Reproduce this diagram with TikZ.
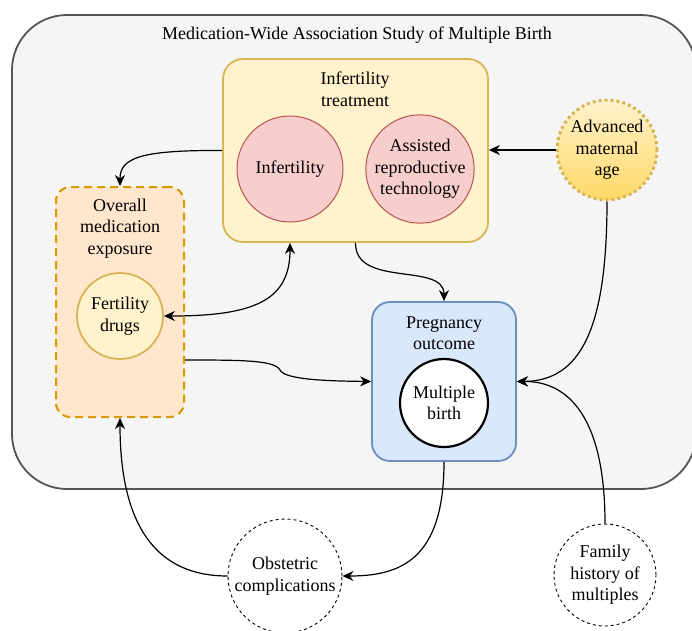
\documentclass[tikz,border=0pt]{standalone}
\usepackage{fontspec}
\setmainfont{Liberation Serif}
\usetikzlibrary{arrows.meta}
\definecolor{outerFill}{HTML}{F5F5F5}
\definecolor{outerLine}{HTML}{555555}
\definecolor{yelFill}{HTML}{FFF2CC}
\definecolor{yelLine}{HTML}{D6B656}
\definecolor{redFill}{HTML}{F8CECC}
\definecolor{redLine}{HTML}{B85450}
\definecolor{orFill}{HTML}{FFE6CC}
\definecolor{orLine}{HTML}{D79B00}
\definecolor{blFill}{HTML}{DAE8FC}
\definecolor{blLine}{HTML}{6C8EBF}
\definecolor{amaBot}{HTML}{FFD966}
\begin{document}
\begin{tikzpicture}[x=1pt,y=-1pt,
  base/.style={font=\fontsize{18}{21.5}\selectfont, align=center, inner sep=0pt},
  lbl/.style={base},
  outerbox/.style={rectangle, draw=outerLine, fill=outerFill, line width=1.8pt, rounded corners=55pt},
  ybox/.style={base, rectangle, draw=yelLine, fill=yelFill, line width=1.8pt, rounded corners=20pt},
  obox/.style={base, rectangle, draw=orLine, fill=orFill, line width=2pt, rounded corners=14pt, dash pattern=on 8pt off 5pt},
  bbox/.style={base, rectangle, draw=blLine, fill=blFill, line width=1.8pt, rounded corners=18pt},
  redc/.style={base, circle, draw=redLine, fill=redFill, line width=1pt},
  yelc/.style={base, circle, draw=yelLine, fill=yelFill, line width=1.8pt},
  amac/.style={base, circle, draw=yelLine, top color=yelFill, bottom color=amaBot, line width=3pt, dash pattern=on 3pt off 3pt},
  whc/.style={base, circle, draw=black, fill=white, line width=2.2pt},
  dashc/.style={base, circle, draw=black, fill=white, line width=0.9pt, dash pattern=on 3pt off 3pt},
  tip/.tip={Stealth[length=11pt,width=10pt,inset=3.5pt]},
  arr/.style={-tip, line width=1.2pt},
  darr/.style={tip-tip, line width=1.2pt}
]
\clip (0,0) rectangle (692,630);
\fill[white] (0,0) rectangle (692,630);

\node[outerbox, minimum width=684pt, minimum height=474pt] (outer) at (354,252) {};
\node[lbl] (title) at (357,35) {Medication-Wide Association Study of Multiple Birth};

% Infertility treatment
\node[ybox, minimum width=265pt, minimum height=183pt] (itx) at (355.5,150.5) {};
\node[lbl] (itlbl) at (355,89) {Infertility\\treatment};
\node[redc, minimum size=106pt] (inf) at (290,169) {Infertility};
\node[redc, minimum size=108pt] (art) at (420,169) {Assisted\\reproductive\\technology};

% Advanced maternal age
\node[amac, minimum size=100pt] (ama) at (607,150) {Advanced\\maternal\\age};

% Overall medication exposure
\node[obox, minimum width=128pt, minimum height=230pt] (ome) at (120,302) {};
\node[lbl] (omelbl) at (120,228.5) {Overall\\medication\\exposure};
\node[yelc, minimum size=86pt] (fd) at (120,316) {Fertility\\drugs};

% Pregnancy outcome
\node[bbox, minimum width=144pt, minimum height=159pt] (po) at (444,381.5) {};
\node[lbl] (polbl) at (444,333) {Pregnancy\\outcome};
\node[whc, minimum size=88pt] (mb) at (444,403) {Multiple\\birth};

% Outside nodes
\node[dashc, minimum size=114pt] (oc) at (285,576) {Obstetric\\complications};
\node[dashc, minimum size=102pt] (fh) at (605,575) {Family\\history of\\multiples};

% Connectors
\draw[arr] (itx.west) .. controls (140,150) and (120,158) .. (ome.north);
\draw[darr] (fd.east) .. controls (255,316) and (290,300) .. (inf.center |- itx.south);
\draw[arr] (itx.south) .. controls (355,288) and (444,262) .. (po.north);
\draw[arr] ([yshift=-58pt]ome.east) .. controls (240,360) and (275,360) .. (280,370)
   .. controls (285,380) and (330,381) .. (po.west);
\draw[arr] (ama.south) .. controls (607,330) and (580,381) .. (po.east);
\draw[arr] (ama.west) -- (itx.east |- ama.west);
\draw[arr] (fh.north) .. controls (605,420) and (570,381) .. (po.east);
\draw[arr] (po.south) .. controls (444,560) and (400,576) .. (oc.east);
\draw[arr] (oc.west) .. controls (140,576) and (120,500) .. (ome.south);
\end{tikzpicture}
\end{document}
